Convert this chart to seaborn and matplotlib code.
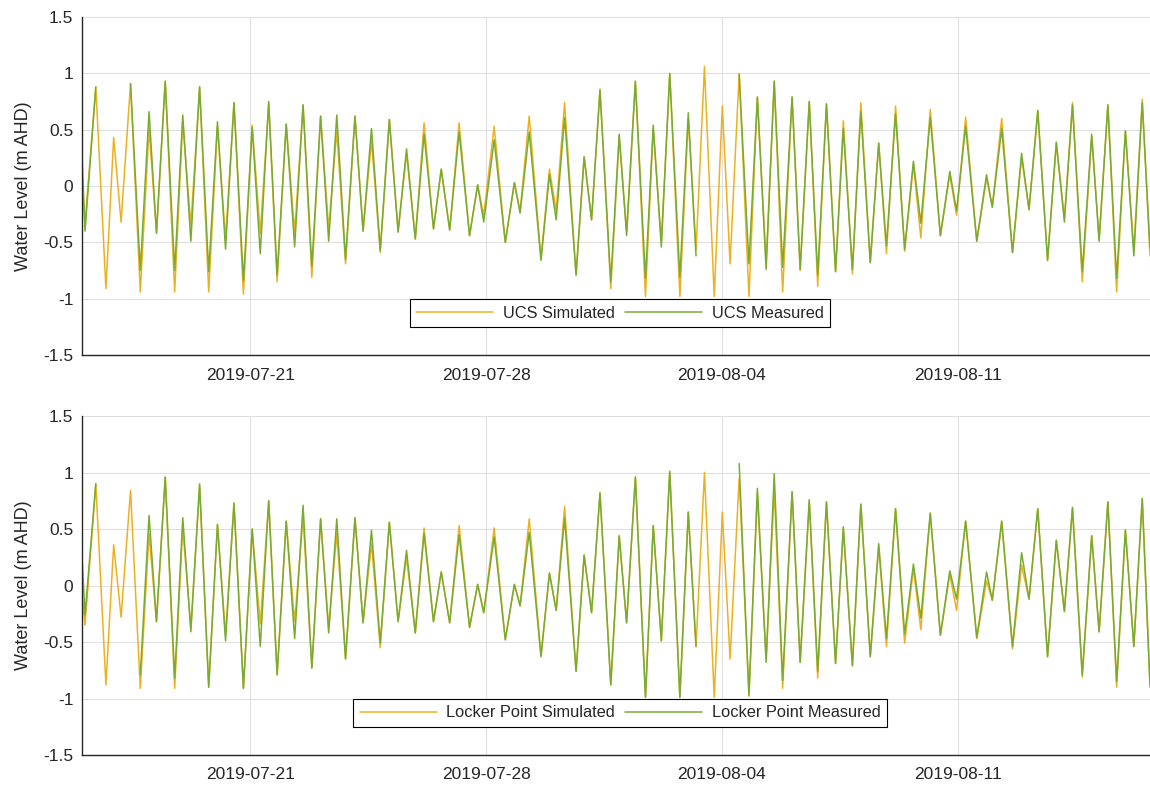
import numpy as np
import pandas as pd
import seaborn as sns
import matplotlib.pyplot as plt
import matplotlib.dates as mdates

# Tidal turning points, days after 2019-07-16 00:00
t_days = [0.00, 0.10, 0.42, 0.72, 0.95, 1.17, 1.45, 1.74, 2.00, 2.22,
          2.48, 2.76, 3.00, 3.24, 3.50, 3.77, 4.03, 4.27, 4.52, 4.80,
          5.06, 5.30, 5.55, 5.80, 6.07, 6.32, 6.57, 6.83, 7.09, 7.33,
          7.57, 7.83, 8.11, 8.35, 8.60, 8.86, 9.13, 9.39, 9.64, 9.90,
          10.16, 10.44, 10.67, 10.92, 11.20, 11.51, 11.75, 11.93, 12.24, 12.57,
          12.84, 13.01, 13.28, 13.63, 13.88, 14.08, 14.33, 14.67, 14.91, 15.13,
          15.38, 15.70, 15.95, 16.17, 16.43, 16.73, 16.96, 17.20, 17.45, 17.75,
          18.00, 18.23, 18.48, 18.77, 19.01, 19.24, 19.51, 19.80, 20.05, 20.31,
          20.55, 20.80, 21.08, 21.32, 21.59, 21.84, 22.10, 22.37, 22.60, 22.87,
          23.12, 23.40, 23.65, 23.88, 24.15, 24.42, 24.68, 24.90, 25.18, 25.48,
          25.76, 25.96, 26.23, 26.56, 26.85, 27.02, 27.30, 27.62, 27.89, 28.11,
          28.37, 28.66, 28.92, 29.16, 29.40, 29.69, 29.97, 30.19, 30.45, 30.71,
          30.97, 31.22, 31.47, 31.70]

nan = np.nan

# UCS (top panel)
ucs_sim = [0.10, -0.33, 0.88, -0.91, 0.43, -0.32, 0.91, -0.94, 0.51, -0.41,
           0.93, -0.94, 0.57, -0.35, 0.88, -0.94, 0.53, -0.47, 0.74, -0.96,
           0.54, -0.42, 0.73, -0.85, 0.55, -0.41, 0.72, -0.81, 0.62, -0.38,
           0.49, -0.69, 0.62, -0.40, 0.40, -0.59, 0.59, -0.40, 0.29, -0.47,
           0.56, -0.38, 0.15, -0.39, 0.56, -0.44, 0.01, -0.26, 0.53, -0.50,
           0.03, -0.22, 0.62, -0.64, 0.15, -0.22, 0.74, -0.79, 0.26, -0.30,
           0.86, -0.91, 0.43, -0.40, 0.93, -0.98, 0.51, -0.49, 0.99, -0.98,
           0.60, -0.57, 1.06, -0.98, 0.71, -0.69, 1.00, -0.98, 0.79, -0.68,
           0.93, -0.94, 0.79, -0.75, 0.75, -0.89, 0.73, -0.76, 0.58, -0.78,
           0.74, -0.68, 0.38, -0.60, 0.71, -0.58, 0.19, -0.46, 0.68, -0.44,
           0.10, -0.26, 0.61, -0.49, 0.07, -0.18, 0.60, -0.59, 0.25, -0.21,
           0.67, -0.66, 0.38, -0.28, 0.74, -0.85, 0.44, -0.47, 0.72, -0.94,
           0.49, -0.57, 0.77, -0.62]
ucs_meas = [0.35, -0.40, 0.88, nan, nan, nan, 0.91, -0.75, 0.66, -0.42,
            0.93, -0.75, 0.63, -0.49, 0.88, -0.76, 0.57, -0.56, 0.74, -0.84,
            0.52, -0.60, 0.75, -0.79, 0.55, -0.54, 0.72, -0.71, 0.62, -0.49,
            0.63, -0.65, 0.62, -0.40, 0.51, -0.57, 0.59, -0.41, 0.33, -0.47,
            0.46, -0.38, 0.15, -0.39, 0.48, -0.44, 0.01, -0.32, 0.41, -0.50,
            0.03, -0.24, 0.48, -0.66, 0.10, -0.30, 0.61, -0.79, 0.26, -0.30,
            0.85, -0.85, 0.46, -0.44, 0.93, -0.82, 0.54, -0.54, 1.00, -0.81,
            0.65, -0.62, nan, nan, nan, nan, 0.99, -0.69, 0.79, -0.74,
            0.93, -0.72, 0.79, -0.74, 0.75, -0.79, 0.73, -0.76, 0.51, -0.74,
            0.66, -0.68, 0.38, -0.53, 0.64, -0.56, 0.22, -0.33, 0.61, -0.44,
            0.13, -0.22, 0.53, -0.49, 0.10, -0.19, 0.51, -0.59, 0.29, -0.21,
            0.67, -0.66, 0.39, -0.32, 0.72, -0.76, 0.46, -0.49, 0.72, -0.82,
            0.49, -0.62, 0.74, -0.55]

# Locker Point (bottom panel)
lp_sim = [-0.05, -0.35, 0.90, -0.88, 0.36, -0.28, 0.84, -0.91, 0.46, -0.32,
          0.96, -0.91, 0.51, -0.37, 0.88, -0.90, 0.54, -0.44, 0.73, -0.91,
          0.50, -0.34, 0.75, -0.79, 0.57, -0.32, 0.60, -0.73, 0.59, -0.37,
          0.46, -0.65, 0.60, -0.33, 0.37, -0.55, 0.56, -0.32, 0.25, -0.42,
          0.51, -0.32, 0.12, -0.33, 0.53, -0.37, 0.01, -0.24, 0.51, -0.48,
          0.01, -0.18, 0.59, -0.62, 0.11, -0.22, 0.70, -0.76, 0.27, -0.24,
          0.82, -0.88, 0.44, -0.33, 0.96, -0.99, 0.53, -0.49, 1.01, -0.99,
          0.65, -0.54, 1.00, -0.99, 0.65, -0.65, 0.95, -0.98, 0.81, -0.65,
          0.84, -0.91, 0.83, -0.68, 0.74, -0.82, 0.74, -0.69, 0.50, -0.71,
          0.72, -0.63, 0.34, -0.54, 0.68, -0.51, 0.15, -0.39, 0.64, -0.44,
          0.10, -0.22, 0.57, -0.47, 0.04, -0.13, 0.57, -0.56, 0.18, -0.12,
          0.68, -0.63, 0.40, -0.23, 0.69, -0.81, 0.44, -0.41, 0.74, -0.90,
          0.49, -0.54, 0.77, -0.90]
lp_meas = [0.32, -0.26, 0.90, nan, nan, nan, nan, -0.79, 0.62, -0.32,
           0.96, -0.82, 0.60, -0.41, 0.90, -0.90, 0.54, -0.49, 0.73, -0.91,
           0.50, -0.54, 0.75, -0.79, 0.57, -0.47, 0.71, -0.73, 0.59, -0.42,
           0.59, -0.65, 0.60, -0.33, 0.49, -0.51, 0.56, -0.32, 0.31, -0.42,
           0.46, -0.32, 0.12, -0.33, 0.45, -0.37, 0.01, -0.24, 0.43, -0.48,
           0.01, -0.18, 0.47, -0.63, 0.11, -0.22, 0.60, -0.76, 0.27, -0.24,
           0.82, -0.88, 0.44, -0.33, 0.96, -0.99, 0.53, -0.49, 1.01, -0.99,
           0.65, -0.54, nan, nan, nan, nan, 1.08, -0.97, 0.86, -0.68,
           0.99, -0.84, 0.83, -0.68, 0.76, -0.76, 0.74, -0.69, 0.52, -0.71,
           0.72, -0.63, 0.37, -0.47, 0.68, -0.43, 0.19, -0.29, 0.64, -0.44,
           0.13, -0.12, 0.57, -0.46, 0.12, -0.13, 0.57, -0.54, 0.29, -0.12,
           0.68, -0.63, 0.40, -0.23, 0.69, -0.79, 0.44, -0.41, 0.74, -0.85,
           0.49, -0.54, 0.77, -0.88]

start = pd.Timestamp('2019-07-16')
end_days = 31.7
tick_dates = ['2019-07-21', '2019-07-28', '2019-08-04', '2019-08-11']
y_ticks = [-1.5, -1, -0.5, 0, 0.5, 1, 1.5]
y_labels = ['-1.5', '-1', '-0.5', '0', '0.5', '1', '1.5']

orange = '#EDB120'
green = '#77AC30'
dark = '#262626'

sns.set_style('white')
plt.rcParams['font.family'] = ['Liberation Sans', 'DejaVu Sans']

times = start + pd.to_timedelta(t_days, unit='D')


# long-form table, one segment id per unbroken run (gaps in the record stay gaps)
def to_long(values, name):
    s = pd.Series(values, dtype=float)
    seg = s.isna().cumsum()
    df = pd.DataFrame({'time': times, 'level': s.values, 'series': name, 'segment': seg.values})
    return df.dropna()


def draw_panel(ax, sim, meas, sim_name, meas_name):
    df = pd.concat([to_long(sim, sim_name), to_long(meas, meas_name)], ignore_index=True)
    sns.lineplot(data=df, x='time', y='level', hue='series', units='segment', estimator=None,
                 hue_order=[sim_name, meas_name], palette=[orange, green],
                 linewidth=1.1, ax=ax)

    ax.set_xlim(start, start + pd.Timedelta(days=end_days))
    ax.set_ylim(-1.5, 1.5)
    ax.set_xticks(pd.to_datetime(tick_dates))
    ax.xaxis.set_major_formatter(mdates.DateFormatter('%Y-%m-%d'))
    ax.set_yticks(y_ticks, labels=y_labels)
    ax.grid(True, color='#dfdfdf', linewidth=0.8)
    ax.set_axisbelow(True)
    ax.set_xlabel('')
    ax.set_ylabel('Water Level (m AHD)', fontsize=13, color=dark, labelpad=8)
    ax.tick_params(direction='in', length=4, labelsize=12.5, colors=dark)
    ax.tick_params(axis='y', pad=6)
    ax.tick_params(axis='x', pad=9)
    for side in ['top', 'right']:
        ax.spines[side].set_visible(False)
    for side in ['left', 'bottom']:
        ax.spines[side].set_color(dark)
        ax.spines[side].set_linewidth(1.0)

    handles, labels = ax.get_legend_handles_labels()
    leg = ax.legend(handles, labels, ncol=2, loc='center', bbox_to_anchor=(0.504, 0.124),
                    frameon=True, fancybox=False, edgecolor='black', framealpha=1,
                    fontsize=11.8, handlelength=4.7, handletextpad=0.6,
                    columnspacing=0.6, borderpad=0.4)
    leg.get_frame().set_linewidth(0.8)


fig = plt.figure(figsize=(11.5, 7.89), dpi=100)
ax1 = fig.add_axes([0.071, 0.550, 0.929, 0.4284])
ax2 = fig.add_axes([0.071, 0.0431, 0.929, 0.4296])

draw_panel(ax1, ucs_sim, ucs_meas, 'UCS Simulated', 'UCS Measured')
draw_panel(ax2, lp_sim, lp_meas, 'Locker Point Simulated', 'Locker Point Measured')

fig.savefig('out.png', dpi=100)
